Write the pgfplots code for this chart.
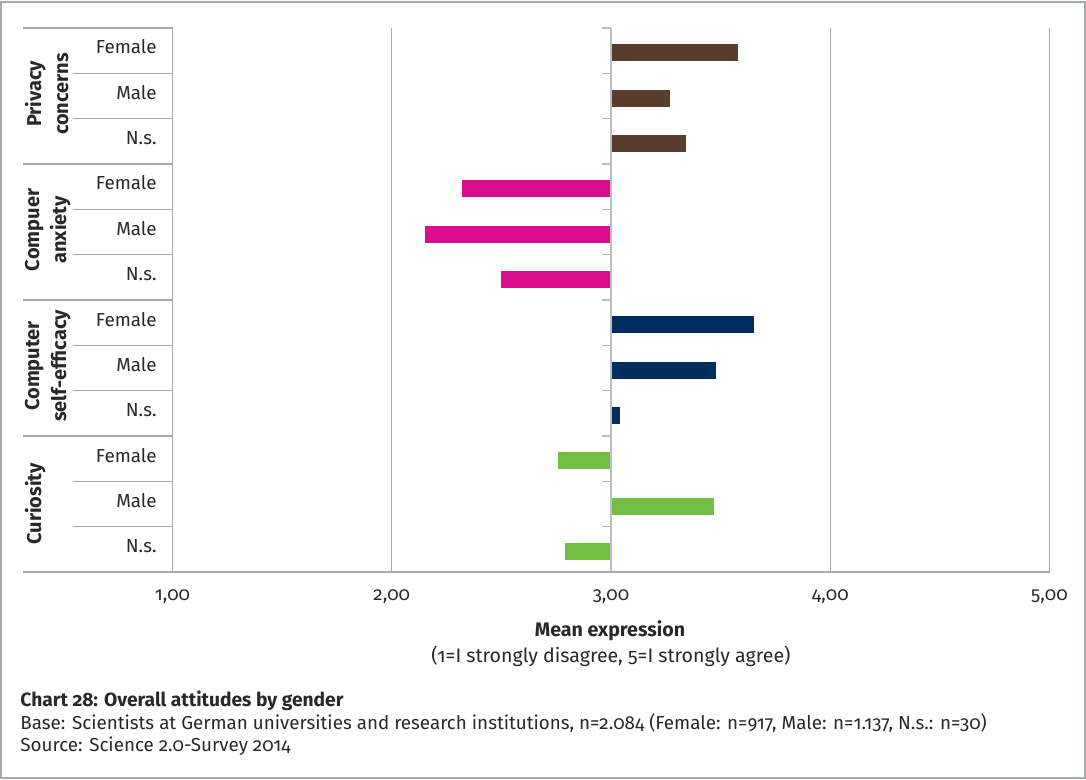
\documentclass[border=0pt]{standalone}
\usepackage{fontspec}
\setmainfont{Fira Sans}[Numbers=OldStyle]
\usepackage{pgfplots}
\pgfplotsset{compat=1.18}

\definecolor{cPriv}{RGB}{91,61,46}
\definecolor{cAnx}{RGB}{217,13,141}
\definecolor{cEff}{RGB}{0,45,94}
\definecolor{cCur}{RGB}{116,190,68}
\definecolor{gridc}{RGB}{165,170,171}
\definecolor{midc}{RGB}{184,190,194}
\definecolor{txt}{RGB}{40,40,40}

\begin{document}
\begin{tikzpicture}[x=1pt,y=1pt]
\useasboundingbox (0,0) rectangle (543,390);
\draw[gridc, line width=0.6pt] (0.5,1) rectangle (542.5,389);
\begin{axis}[
  at={(86.25pt,104pt)}, anchor=south west,
  scale only axis, width=438.5pt, height=272pt,
  xmin=1, xmax=5, ymin=0.5, ymax=12.5, y dir=reverse,
  axis line style={draw=none},
  tick style={draw=none},
  xtick={1,2,3,4,5},
  xmajorgrids, major grid style={gridc, line width=0.6pt},
  ytick={1,...,12},
  yticklabels={Female,Male,N.s.,Female,Male,N.s.,Female,Male,N.s.,Female,Male,N.s.},
  ticklabel style={font=\fontsize{9.4}{11}\selectfont, text=txt},
  xticklabel style={anchor=center, inner sep=0pt, yshift=-12.5pt},
  yticklabel style={anchor=east, inner sep=0pt, xshift=-7.75pt, yshift=1.8pt},
  every axis plot/.append style={line width=8.5pt, yshift=-1.1pt},
  /pgf/number format/.cd, fixed, fixed zerofill, precision=2, use comma, assume math mode=true,
]
% Privacy concerns
\addplot[cPriv] coordinates {(3,1) (3.58,1)};
\addplot[cPriv] coordinates {(3,2) (3.27,2)};
\addplot[cPriv] coordinates {(3,3) (3.34,3)};
% Computer anxiety
\addplot[cAnx] coordinates {(3,4) (2.32,4)};
\addplot[cAnx] coordinates {(3,5) (2.15,5)};
\addplot[cAnx] coordinates {(3,6) (2.50,6)};
% Computer self-efficacy
\addplot[cEff] coordinates {(3,7) (3.65,7)};
\addplot[cEff] coordinates {(3,8) (3.48,8)};
\addplot[cEff] coordinates {(3,9) (3.04,9)};
% Curiosity
\addplot[cCur] coordinates {(3,10) (2.76,10)};
\addplot[cCur] coordinates {(3,11) (3.47,11)};
\addplot[cCur] coordinates {(3,12) (2.79,12)};
\end{axis}

% category axis at 3,00 with its ticks
\draw[midc, line width=0.9pt] (305.5,104) -- (305.5,376);
\foreach \k in {0,...,12} \draw[midc, line width=0.7pt] (305.5,{376-22.6667*\k}) -- ++(-4.5,0);

% separators of the category labels
\foreach \k in {0,3,6,9} \draw[gridc, line width=0.6pt] (11.5,{376-22.6667*\k}) -- (86.25,{376-22.6667*\k});
\foreach \k in {1,2,4,5,7,8,10,11} \draw[gridc, line width=0.6pt] (36.5,{376-22.6667*\k}) -- (86.25,{376-22.6667*\k});
\draw[gridc, line width=0.6pt] (11.5,104) -- (524.75,104);

% group labels
\begin{scope}[every node/.style={rotate=90, anchor=north, align=center, inner sep=0pt, text=txt, font=\bfseries\fontsize{10}{13.5}\selectfont}]
\node at (12.3,343) {Privacy\\concerns};
\node at (12.3,275) {Compuer\\anxiety};
\node at (12.3,207) {Computer\\self-efficacy};
\node at (12.3,138) {Curiosity};
\end{scope}

% axis title
\node[text=txt, font=\bfseries\fontsize{9.8}{11}\selectfont] at (305,74.5) {Mean expression};
\node[text=txt, font=\fontsize{9.8}{11}\selectfont] at (305.5,62) {(1=I strongly disagree, 5=I strongly agree)};

% caption
\node[anchor=west, inner sep=0pt, text=txt, font=\bfseries\fontsize{9.6}{11}\selectfont] at (10,39.5) {Chart 28: Overall attitudes by gender};
\node[anchor=west, inner sep=0pt, text=txt, font=\fontsize{9.4}{11}\selectfont] at (10,28.5) {Base: Scientists at German universities and research institutions, n=2.084 (Female: n=917, Male: n=1.137, N.s.: n=30)};
\node[anchor=west, inner sep=0pt, text=txt, font=\fontsize{9.4}{11}\selectfont] at (10,17) {Source: Science 2.0-Survey 2014};
\end{tikzpicture}
\end{document}
